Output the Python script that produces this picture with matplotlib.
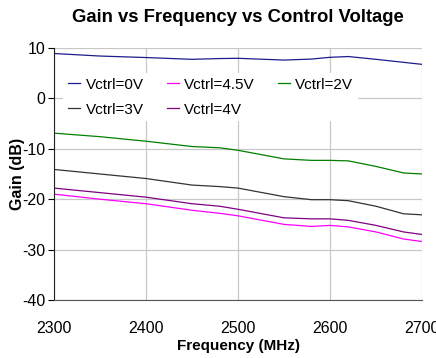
import matplotlib
matplotlib.use("Agg")
import matplotlib.pyplot as plt

# gain curves read at a set of frequencies for each control voltage
freq = [2300, 2350, 2400, 2450, 2480, 2500, 2550, 2580, 2600, 2620, 2650, 2680, 2700]

g_0v = [8.9, 8.4, 8.1, 7.75, 7.9, 7.95, 7.6, 7.8, 8.15, 8.3, 7.75, 7.15, 6.75]
g_2v = [-6.9, -7.6, -8.5, -9.55, -9.8, -10.3, -12.0, -12.3, -12.3, -12.4, -13.5, -14.8, -15.0]
g_3v = [-14.1, -15.0, -15.9, -17.2, -17.5, -17.8, -19.5, -20.1, -20.1, -20.3, -21.4, -22.9, -23.1]
g_4v = [-17.8, -18.7, -19.6, -20.9, -21.4, -22.0, -23.7, -23.9, -23.9, -24.2, -25.2, -26.5, -27.0]
g_45v = [-19.0, -20.0, -20.9, -22.2, -22.8, -23.3, -25.0, -25.4, -25.2, -25.5, -26.5, -27.9, -28.4]

labels = ["Vctrl=0V", "Vctrl=4.5V", "Vctrl=2V", "Vctrl=3V", "Vctrl=4V"]
colors = ["#1c1c8c", "#ff00ff", "#008000", "#333333", "#800080"]
x_ticks = [2300, 2400, 2500, 2600, 2700]
y_ticks = [-40, -30, -20, -10, 0, 10]

plt.rcParams["font.family"] = "Liberation Sans"
plt.rcParams["axes.unicode_minus"] = False

fig = plt.figure(figsize=(4.36, 3.58), dpi=100)
ax = fig.add_axes([0.1239, 0.162, 0.844, 0.704])

series = [g_0v, g_45v, g_2v, g_3v, g_4v]
handles = []
for vals, lab, c in zip(series, labels, colors):
    h, = ax.plot(freq, vals, color=c, lw=0.9, label=lab)
    handles.append(h)

ax.set_xlim(2300, 2700)
ax.set_ylim(-40, 10)
ax.set_xticks(x_ticks)
ax.set_yticks(y_ticks)
ax.grid(True, color="#c8c8c8", lw=0.9)
ax.set_axisbelow(True)
for s in ["top", "right"]:
    ax.spines[s].set_visible(False)
ax.spines["left"].set_color("#222222")
ax.spines["bottom"].set_color("#555555")
ax.tick_params(axis="y", length=4, labelsize=11.5, pad=2)
ax.tick_params(axis="x", length=0, labelsize=11.5, pad=15)

# legend fills row-wise: reorder for matplotlib's column-major layout
order = [0, 3, 1, 4, 2]
leg = ax.legend([handles[i] for i in order], [labels[i] for i in order],
                ncol=3, loc="upper left", bbox_to_anchor=(0.005, 0.93),
                frameon=True, fancybox=False, edgecolor="none", framealpha=1,
                fontsize=11, handlelength=0.8, handletextpad=0.35,
                columnspacing=1.5, labelspacing=0.7, borderpad=0.3)

ax.set_xlabel("Frequency (MHz)", fontsize=11, fontweight="bold", labelpad=2)
ax.set_ylabel("Gain (dB)", fontsize=11.5, fontweight="bold")
ax.yaxis.set_label_coords(-0.08, 0.5)
fig.suptitle("Gain vs Frequency vs Control Voltage", x=0.545, y=0.975,
             fontsize=13.3, fontweight="bold")

fig.savefig("out.png", dpi=100)
